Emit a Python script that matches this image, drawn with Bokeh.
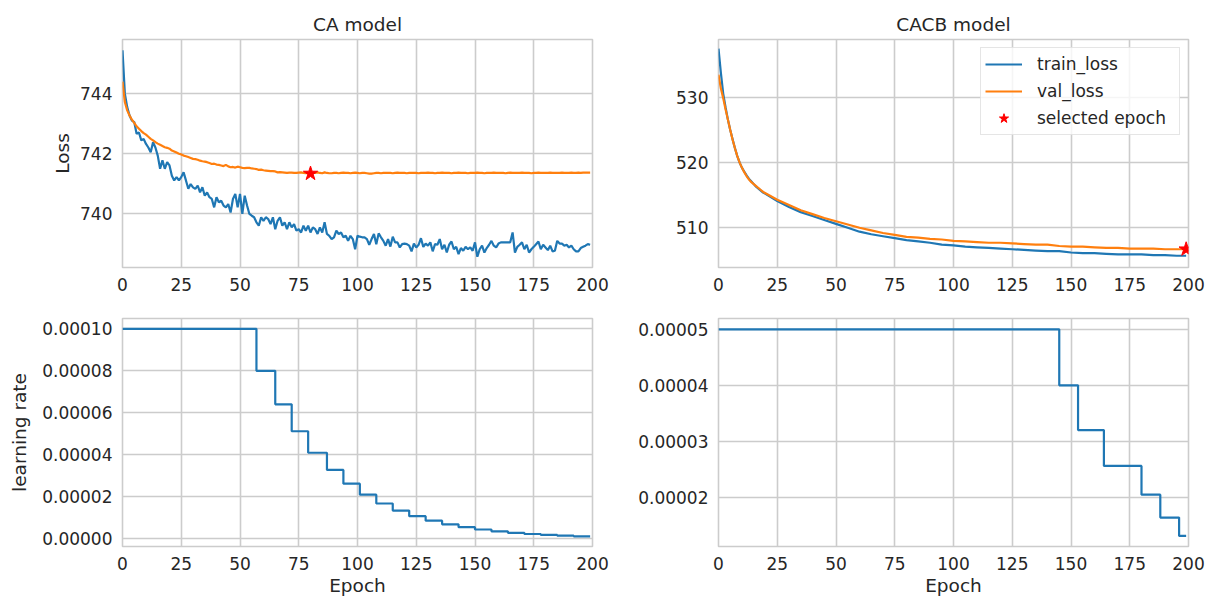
from bokeh.plotting import figure
from bokeh.layouts import column, row
from bokeh.models import FixedTicker, PrintfTickFormatter, Range1d, Legend, LegendItem
from bokeh.embed import file_html
from bokeh.resources import INLINE

# ---------------- data ----------------
epochs = list(range(200))

ca_train_loss = [
    745.45, 744.00, 743.55, 743.27, 743.10, 743.05, 742.66, 742.70, 742.44, 742.49,
    742.32, 742.20, 742.04, 742.38, 742.20, 741.93, 741.49, 741.77, 741.49, 741.71,
    741.60, 741.26, 741.10, 741.21, 741.10, 741.21, 741.37, 741.10, 740.82, 740.98,
    740.87, 740.82, 740.93, 740.70, 740.87, 740.59, 740.70, 740.54, 740.48, 740.20,
    740.54, 740.37, 740.42, 740.26, 740.20, 740.31, 740.03, 740.48, 740.65, 740.20,
    740.65, 739.98, 740.59, 740.26, 739.98, 739.92, 739.87, 739.70, 739.59, 739.87,
    739.75, 739.87, 739.81, 739.64, 739.87, 739.47, 739.75, 739.87, 739.59, 739.70,
    739.47, 739.70, 739.53, 739.64, 739.42, 739.47, 739.36, 739.59, 739.42, 739.59,
    739.36, 739.53, 739.47, 739.31, 739.53, 739.36, 739.70, 739.31, 739.25, 739.14,
    739.20, 739.42, 739.31, 739.36, 739.20, 739.25, 739.08, 739.25, 739.14, 738.80,
    739.25, 739.22, 739.20, 739.20, 739.14, 738.95, 739.14, 739.31, 738.97, 739.33,
    739.20, 739.08, 738.92, 739.14, 738.89, 739.22, 739.03, 739.03, 738.86, 738.97,
    738.99, 738.97, 738.92, 738.73, 738.99, 738.86, 738.95, 739.17, 738.88, 738.99,
    738.92, 739.03, 738.73, 738.97, 738.95, 739.14, 738.80, 738.95, 738.69, 738.95,
    739.06, 738.80, 738.88, 738.64, 738.84, 738.75, 738.88, 738.80, 738.86, 738.75,
    739.03, 738.55, 738.80, 738.92, 738.69, 738.84, 738.95, 739.08, 738.92, 738.86,
    738.99, 739.03, 739.03, 739.03, 739.03, 739.03, 739.36, 738.69, 738.88, 738.95,
    739.03, 738.80, 738.95, 738.69, 738.80, 738.88, 738.97, 739.06, 738.80, 738.95,
    738.86, 738.77, 738.92, 738.73, 738.75, 739.08, 738.99, 738.99, 738.92, 738.95,
    738.86, 738.92, 738.80, 738.73, 738.73, 738.84, 738.88, 738.92, 738.97, 738.95,
]

ca_val_loss = [
    744.40, 743.72, 743.44, 743.27, 743.13, 743.02, 742.91, 742.83, 742.75, 742.68,
    742.63, 742.56, 742.49, 742.44, 742.38, 742.33, 742.29, 742.25, 742.21, 742.19,
    742.16, 742.10, 742.07, 742.03, 741.99, 741.97, 741.93, 741.91, 741.88, 741.85,
    741.82, 741.81, 741.79, 741.76, 741.74, 741.73, 741.71, 741.68, 741.65, 741.66,
    741.63, 741.62, 741.60, 741.58, 741.62, 741.57, 741.54, 741.55, 741.53, 741.56,
    741.54, 741.52, 741.51, 741.52, 741.52, 741.50, 741.49, 741.48, 741.45, 741.46,
    741.44, 741.43, 741.42, 741.41, 741.41, 741.40, 741.37, 741.38, 741.37, 741.36,
    741.35, 741.36, 741.36, 741.35, 741.35, 741.36, 741.37, 741.35, 741.34, 741.34,
    741.34, 741.35, 741.35, 741.37, 741.35, 741.34, 741.37, 741.35, 741.34, 741.34,
    741.35, 741.35, 741.34, 741.35, 741.36, 741.35, 741.35, 741.34, 741.35, 741.36,
    741.35, 741.34, 741.35, 741.35, 741.34, 741.33, 741.33, 741.34, 741.35, 741.35,
    741.34, 741.35, 741.35, 741.35, 741.35, 741.34, 741.35, 741.36, 741.35, 741.35,
    741.35, 741.34, 741.35, 741.35, 741.35, 741.35, 741.34, 741.35, 741.35, 741.35,
    741.36, 741.35, 741.35, 741.34, 741.35, 741.35, 741.36, 741.35, 741.35, 741.35,
    741.34, 741.35, 741.35, 741.36, 741.35, 741.35, 741.35, 741.34, 741.35, 741.35,
    741.35, 741.36, 741.35, 741.35, 741.34, 741.35, 741.35, 741.35, 741.36, 741.35,
    741.35, 741.35, 741.35, 741.34, 741.35, 741.36, 741.35, 741.35, 741.35, 741.35,
    741.36, 741.35, 741.35, 741.35, 741.34, 741.35, 741.35, 741.36, 741.35, 741.35,
    741.35, 741.35, 741.36, 741.35, 741.35, 741.35, 741.35, 741.36, 741.35, 741.35,
    741.35, 741.36, 741.35, 741.35, 741.36, 741.35, 741.36, 741.36, 741.36, 741.36,
]

ca_selected_epoch = [80]
ca_selected_loss = [741.33]

cacb_epochs = [0, 1, 2, 3, 4, 5, 6, 7, 8, 9, 10, 11, 12, 13, 14, 15, 16, 17, 18, 19, 20,
               25, 30, 35, 40, 45, 50, 55, 60, 65, 70, 75, 80, 85, 90, 95, 100,
               105, 110, 115, 120, 125, 130, 135, 140, 145, 150, 155, 160, 165,
               170, 175, 180, 185, 190, 195, 199]
cacb_train_loss = [537.5, 533.8, 530.6, 528.5, 526.6, 525.0, 523.6, 522.2, 521.0, 520.0, 519.2,
                   518.6, 518.0, 517.5, 517.1, 516.7, 516.3, 516.0, 515.7, 515.4, 515.2,
                   514.1, 513.2, 512.4, 511.8, 511.2, 510.6, 510.0, 509.4, 509.0, 508.7,
                   508.4, 508.1, 507.9, 507.7, 507.4, 507.3, 507.1, 507.0, 506.9, 506.8,
                   506.7, 506.6, 506.5, 506.4, 506.4, 506.2, 506.1, 506.1, 506.0, 505.9,
                   505.9, 505.9, 505.8, 505.8, 505.7, 505.7]
cacb_val_loss = [533.5, 531.4, 529.9, 528.2, 526.6, 525.0, 523.5, 522.2, 521.0, 520.0, 519.2,
                 518.5, 517.9, 517.4, 517.0, 516.7, 516.4, 516.1, 515.8, 515.5, 515.3,
                 514.3, 513.5, 512.7, 512.1, 511.5, 511.0, 510.5, 510.0, 509.6, 509.2,
                 508.9, 508.6, 508.5, 508.3, 508.2, 508.0, 507.9, 507.8, 507.7, 507.7,
                 507.6, 507.5, 507.4, 507.4, 507.2, 507.1, 507.1, 507.0, 506.9, 506.9,
                 506.8, 506.8, 506.8, 506.7, 506.7, 506.7]
cacb_selected_epoch = [199]
cacb_selected_loss = [506.7]

ca_lr_epochs = [0, 57, 65, 72, 79, 87, 94, 101, 108, 115, 122, 129, 136, 143,
                150, 157, 164, 171, 178, 185, 192, 199]
ca_lr = [0.0001, 0.00008, 0.000064, 0.0000512, 0.00004096, 0.000032768,
         0.0000262144, 0.00002097, 0.00001678, 0.00001342, 0.00001074,
         0.00000859, 0.00000687, 0.0000055, 0.0000044, 0.00000352,
         0.00000281, 0.00000225, 0.0000018, 0.00000144, 0.00000115, 0.00000115]

cacb_lr_epochs = [0, 145, 153, 164, 180, 188, 196, 199]
cacb_lr = [0.00005, 0.00004, 0.000032, 0.0000256, 0.00002048, 0.000016384,
           0.0000131072, 0.0000131072]

x_ticks = [0, 25, 50, 75, 100, 125, 150, 175, 200]
ca_loss_ticks = [740, 742, 744]
cacb_loss_ticks = [510, 520, 530]
ca_lr_ticks = [0.0, 0.00002, 0.00004, 0.00006, 0.00008, 0.0001]
cacb_lr_ticks = [0.00002, 0.00003, 0.00004, 0.00005]

# ---------------- style ----------------
FONT = "DejaVu Sans"
TXT = "#262626"
GRID = "#cccccc"
BLUE = "#1f77b4"
ORANGE = "#ff7f0e"
LW = 2.2


def make_fig(width, height, bl, br, bt, bb, yr, yticks, title=None):
    p = figure(width=width, height=height, x_range=Range1d(0, 200),
               y_range=Range1d(*yr), output_backend="svg", toolbar_location=None,
               min_border_left=bl, min_border_right=br, min_border_top=bt,
               min_border_bottom=bb, title=title)
    p.background_fill_color = "white"
    p.border_fill_color = "white"
    p.outline_line_color = GRID
    p.outline_line_width = 1.6
    if title:
        p.title.text_font = FONT
        p.title.text_font_size = "18.5px"
        p.title.text_font_style = "normal"
        p.title.text_color = TXT
        p.title.align = "center"
    p.xaxis.ticker = FixedTicker(ticks=x_ticks)
    p.yaxis.ticker = FixedTicker(ticks=yticks)
    for ax in (p.xaxis, p.yaxis):
        ax.axis_line_color = None
        ax.major_tick_line_color = None
        ax.minor_tick_line_color = None
        ax.major_tick_out = 0
        ax.major_tick_in = 0
        ax.minor_tick_out = 0
        ax.minor_tick_in = 0
        ax.major_label_text_font = FONT
        ax.major_label_text_font_size = "17px"
        ax.major_label_text_color = TXT
        ax.axis_label_text_font = FONT
        ax.axis_label_text_font_size = "18.5px"
        ax.axis_label_text_font_style = "normal"
        ax.axis_label_text_color = TXT
    p.xaxis.major_label_standoff = 10
    p.yaxis.major_label_standoff = 10
    p.xaxis.axis_label_standoff = 2
    p.yaxis.axis_label_standoff = 4
    p.grid.grid_line_color = GRID
    p.grid.grid_line_width = 1.6
    return p


TOP_H = 298
BOT_H = 601 - TOP_H
LEFT_W = 615
RIGHT_W = 1208 - LEFT_W

# top-left: CA model loss
p1 = make_fig(LEFT_W, TOP_H, 122, 23, 39, 31, (738.19, 745.81), ca_loss_ticks, "CA model")
p1.yaxis.axis_label = "Loss"
p1.line(epochs, ca_train_loss, color=BLUE, line_width=LW)
p1.line(epochs, ca_val_loss, color=ORANGE, line_width=LW)
p1.scatter(ca_selected_epoch, ca_selected_loss, marker="star", size=15, color="red")

# top-right: CACB model loss
p2 = make_fig(RIGHT_W, TOP_H, 103, 20, 39, 31, (503.9, 538.9), cacb_loss_ticks, "CACB model")
r_tr = p2.line(cacb_epochs, cacb_train_loss, color=BLUE, line_width=LW)
r_va = p2.line(cacb_epochs, cacb_val_loss, color=ORANGE, line_width=LW)
r_st = p2.scatter(cacb_selected_epoch, cacb_selected_loss, marker="star", size=15, color="red")
legend = Legend(items=[LegendItem(label="train_loss", renderers=[r_tr]),
                       LegendItem(label="val_loss", renderers=[r_va]),
                       LegendItem(label="selected epoch", renderers=[r_st])],
                location="top_right")
legend.label_text_font = FONT
legend.label_text_font_size = "17px"
legend.label_text_color = TXT
legend.border_line_color = GRID
legend.border_line_width = 1.2
legend.background_fill_alpha = 0.8
legend.margin = 8
legend.padding = 4
legend.spacing = 3
legend.glyph_width = 37
legend.glyph_height = 24
legend.label_height = 20
legend.label_width = 138
legend.label_standoff = 15
p2.add_layout(legend)

# bottom-left: CA learning rate
p3 = make_fig(LEFT_W, BOT_H, 122, 23, 20, 55, (-0.0000037, 0.0001049), ca_lr_ticks)
p3.yaxis.axis_label = "learning rate"
p3.yaxis.axis_label_standoff = 9
p3.xaxis.axis_label = "Epoch"
p3.yaxis.formatter = PrintfTickFormatter(format="%.5f")
p3.step(ca_lr_epochs, ca_lr, mode="after", color=BLUE, line_width=LW)

# bottom-right: CACB learning rate
p4 = make_fig(RIGHT_W, BOT_H, 103, 20, 20, 55, (0.00001122, 0.00005193), cacb_lr_ticks)
p4.xaxis.axis_label = "Epoch"
p4.yaxis.formatter = PrintfTickFormatter(format="%.5f")
p4.step(cacb_lr_epochs, cacb_lr, mode="after", color=BLUE, line_width=LW)

layout = column(row(p1, p2), row(p3, p4))
open("out.html", "w").write(file_html(layout, INLINE))
